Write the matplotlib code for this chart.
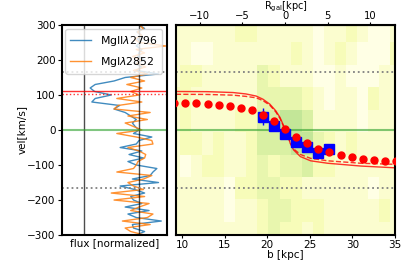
import numpy as np
import matplotlib.pyplot as plt

# spectra (flux vs velocity)
vel = np.arange(-300, 301, 10)
flux_2796 = [0.95, 1.10, 0.90, 0.88, 1.40, 0.95, 0.80, 1.18, 0.75, 1.05,
             0.90, 0.85, 1.10, 0.92, 0.66, 1.35, 0.88, 1.20, 1.25, 1.32,
             0.95, 0.80, 1.08, 0.82, 1.05, 0.66, 0.95, 1.00, 1.23, 0.90,
             1.00, 0.93, 0.88, 0.95, 0.85, 0.75, 0.55, 0.65, 0.15, 0.21,
             0.50, 0.20, 0.12, 0.21, 0.55, 0.75, 1.35, 0.95, 1.05, 0.92,
             1.10, 0.98, 1.00, 1.05, 0.95, 1.02, 0.97, 1.05, 0.96, 1.10, 1.00]
flux_2852 = [1.10, 0.85, 0.75, 1.20, 0.70, 1.15, 1.25, 0.85, 1.00, 1.18,
             0.55, 1.10, 0.50, 1.08, 0.90, 0.80, 1.08, 1.23, 0.60, 0.90,
             0.95, 0.98, 1.10, 1.12, 1.00, 0.80, 1.25, 1.23, 0.95, 0.60,
             1.05, 0.90, 0.75, 1.15, 0.80, 1.20, 0.55, 0.62, 1.05, 0.60,
             1.00, 0.85, 1.05, 0.78, 1.10, 0.85, 1.15, 0.90, 1.12, 0.95,
             1.05, 0.88, 1.10, 0.95, 1.48, 1.00, 0.92, 1.05, 0.97, 1.08, 1.00]

# velocity map bins
b_bins = np.array([9.1, 10.4, 11.7, 13.0, 14.3, 15.6, 16.9, 18.2, 19.5, 20.8, 22.1,
                   23.4, 24.7, 26.0, 27.3, 28.6, 29.9, 31.2, 32.5, 33.8, 35.1])
vel_edges = [-326, -262, -198, -134, -70, -6, 58, 122, 186, 250, 314]
# rows from bottom (-326..-262) to top (250..314)
vmap = np.array([
    [1, 1, 1, 1, 1, 1, 1, 1, 2, 3, 2, 2, 1, 2, 1, 1, 1, 1, 1, 1, 1],
    [1, 1, 1, 1, 1, 0, 1, 1, 2, 3, 3, 2, 2, 2, 1, 1, 1, 1, 1, 2, 1],
    [1, 1, 1, 1, 1, 0, 2, 2, 3, 3, 2, 2, 1, 1, 1, 1, 1, 1, 0, 1, 1],
    [1, 0, 1, 2, 2, 1, 1, 2, 3, 2, 3, 3, 4, 2, 2, 1, 1, 1, 1, 1, 1],
    [1, 2, 2, 1, 2, 1, 1, 2, 4, 4, 4, 5, 5, 3, 2, 1, 2, 1, 1, 1, 1],
    [1, 2, 1, 1, 1, 1, 2, 2, 4, 4, 5, 5, 4, 1, 1, 1, 1, 0, 1, 1, 1],
    [2, 2, 1, 1, 1, 1, 1, 1, 3, 3, 3, 3, 2, 1, 0, 1, 1, 0, 2, 1, 1],
    [1, 2, 2, 1, 1, 1, 1, 1, 3, 2, 1, 1, 1, 0, 0, 1, 0, 0, 0, 1, 1],
    [1, 1, 0, 0, 1, 1, 1, 1, 1, 1, 1, 2, 1, 0, 1, 2, 1, 0, 0, 0, 2],
    [1, 1, 1, 1, 1, 1, 2, 2, 1, 1, 1, 1, 1, 0, 1, 1, 2, 1, 0, 0, 1],
])

# mean velocity per column
v_dots = [76, 76, 76, 74, 71, 69, 62, 57, 43, 27, 2,
          -21, -38, -55, -62, -71, -78, -83, -86, -88, -89]

# measured absorption velocities
b_abs = [19.5, 20.8, 22.1, 23.4, 24.7, 26.0, 27.3]
v_abs = [38, 10, -11, -33, -48, -65, -55]
v_abs_err = [24, 6, 5, 6, 6, 6, 5]

# model rotation curves
b_model = [9.3, 13, 16, 17.5, 18.7, 19.5, 20.3, 21.0, 21.5, 22.0, 22.35,
           22.7, 23.1, 23.9, 25.1, 27.1, 31, 35]
v_model1 = [110, 109.5, 107, 103, 97, 88, 74, 55, 36, 8, -9,
            -38, -57, -76, -88, -95, -103, -108]
v_model2 = [102, 101.5, 99.5, 96, 92, 84, 71, 52, 33, 6, -10,
            -37, -54, -70, -81, -88, -95, -98]

b_center = 22.1
v_esc = 165

plt.rcParams['font.size'] = 7.5
plt.rcParams['xtick.major.size'] = 2.5
plt.rcParams['ytick.major.size'] = 3
plt.rcParams['xtick.major.pad'] = 1
plt.rcParams['ytick.major.pad'] = 1.5
fig = plt.figure(figsize=(4.15, 2.6), dpi=100)
ax1 = fig.add_axes([0.149, 0.096, 0.253, 0.808])
ax2 = fig.add_axes([0.424, 0.096, 0.528, 0.808])

# left panel: spectra
ax1.plot(flux_2796, vel, color='C0', lw=1, alpha=0.85, label=r'MgII$\lambda$2796')
ax1.plot(flux_2852, vel, color='C1', lw=1, alpha=0.85, label=r'MgI$\lambda$2852')
ax1.axvline(0, color='k', lw=1, alpha=0.7)
ax1.axvline(1, color='k', lw=1, alpha=0.7)
ax1.axhline(0, color='C2', lw=1.5, alpha=0.6)
ax1.axhline(v_esc, color='gray', ls=':', lw=1.3)
ax1.axhline(-v_esc, color='gray', ls=':', lw=1.3)
ax1.axhline(v_model1[0], color='r', lw=1, alpha=0.8)
ax1.axhline(v_model2[0], color='r', ls=':', lw=1, alpha=0.8)
ax1.set_xlim(-0.39, 1.5)
ax1.set_ylim(-300, 300)
ax1.set_xticks([])
ax1.set_yticks([-300, -200, -100, 0, 100, 200, 300])
ax1.set_xlabel('flux [normalized]', labelpad=2)
ax1.set_ylabel('vel[km/s]', labelpad=0)
ax1.legend(loc='upper right', fontsize=7.8, borderaxespad=0.4, labelspacing=0.7)

# right panel: velocity map
b_edges = np.append(b_bins - 0.65, b_bins[-1] + 0.65)
ax2.pcolormesh(b_edges, vel_edges, vmap, cmap='YlGn', vmin=0, vmax=16, zorder=0)
ax2.axhline(0, color='C2', lw=1.5, alpha=0.6)
ax2.axhline(v_esc, color='gray', ls=':', lw=1.3)
ax2.axhline(-v_esc, color='gray', ls=':', lw=1.3)
ax2.plot(b_model, v_model1, color='r', lw=1, alpha=0.8)
ax2.plot(b_model, v_model2, color='r', ls='--', lw=1, alpha=0.8)
ax2.errorbar(b_abs, v_abs, yerr=v_abs_err, fmt='s', color='b', ms=7, lw=1, zorder=3)
ax2.plot(b_bins, v_dots, 'o', color='r', ms=5, zorder=4)
ax2.set_xlim(9.3, 35)
ax2.set_ylim(-300, 300)
ax2.tick_params(left=False, labelleft=False)
ax2.set_xticks([10, 15, 20, 25, 30, 35])
ax2.set_xlabel('b [kpc]', labelpad=0)

top = ax2.secondary_xaxis('top', functions=(lambda b: b - b_center, lambda r: r + b_center))
top.set_xticks([-10, -5, 0, 5, 10])
top.tick_params(pad=0.5, labelsize=7.2)
top.set_xlabel(r'R$_{\rm gal}$[kpc]', labelpad=1.5, fontsize=7)

for ax in (ax1, ax2):
    for s in ax.spines.values():
        s.set_linewidth(1.5)

fig.savefig('out.png', dpi=100)
